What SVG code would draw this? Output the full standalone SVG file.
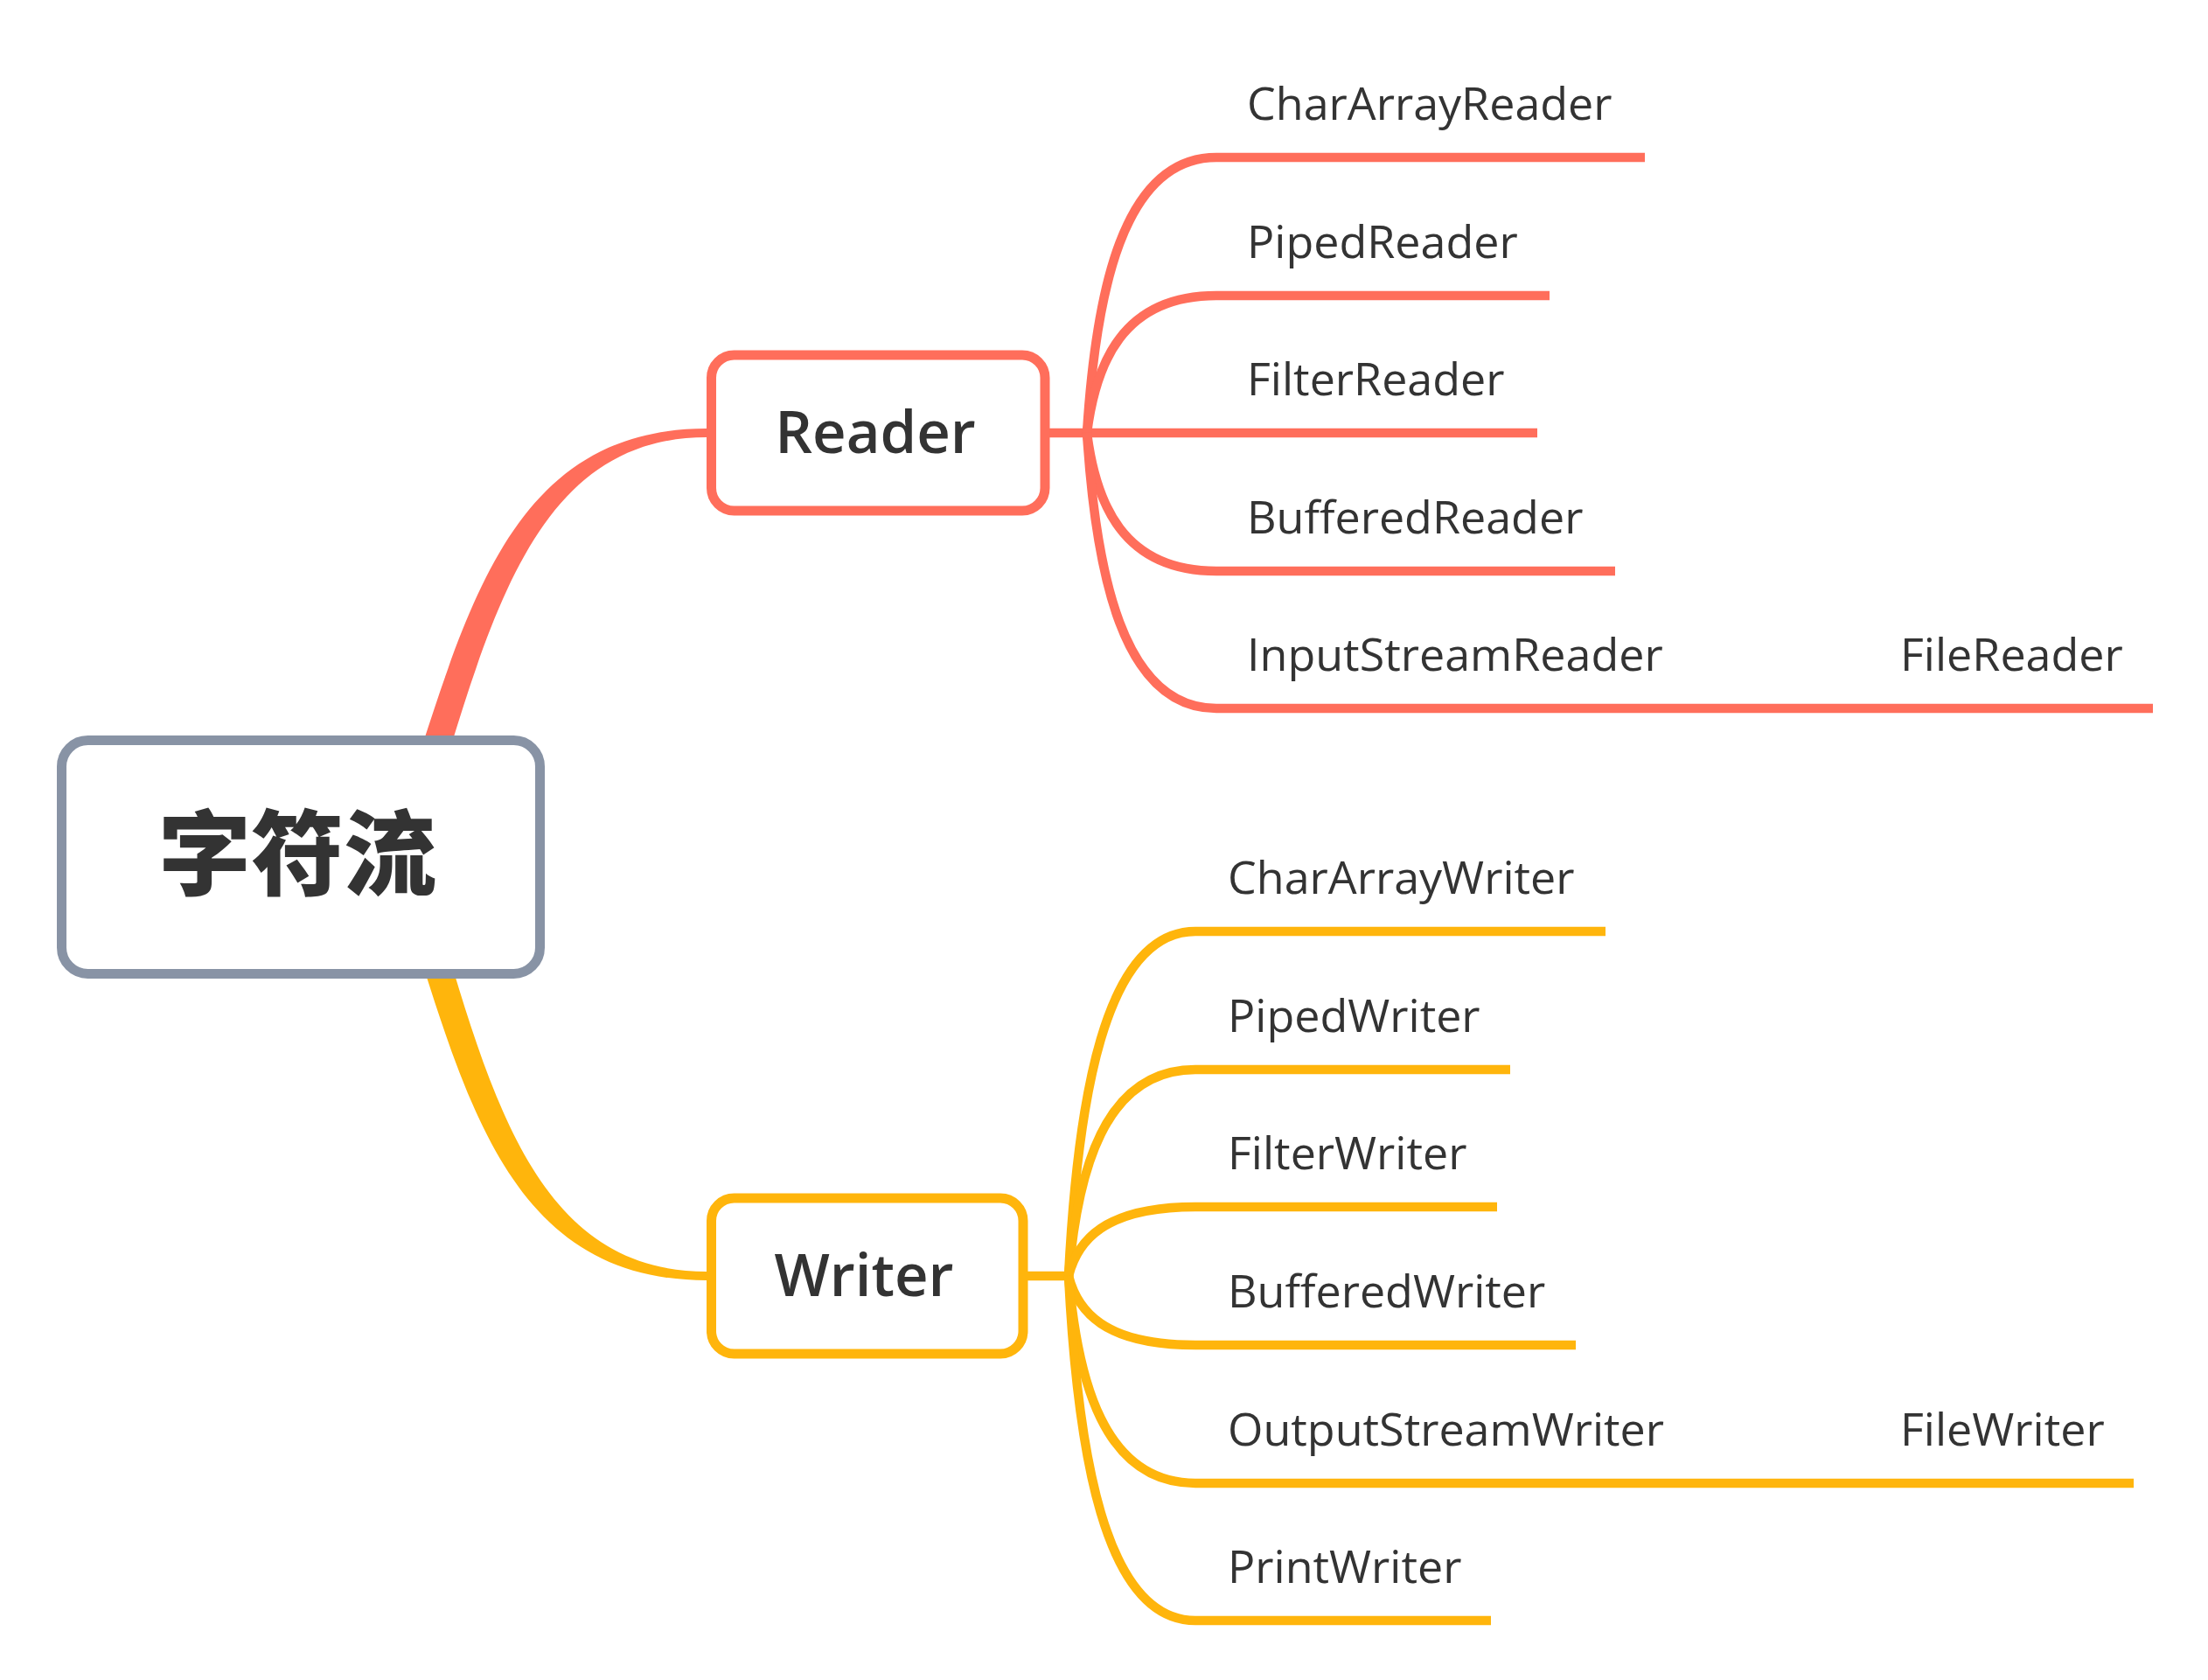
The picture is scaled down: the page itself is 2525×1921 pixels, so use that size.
<svg xmlns="http://www.w3.org/2000/svg" width="2525" height="1921" viewBox="0 0 2525 1921">
<style>
  .bg { fill: #ffffff; }
  .red { stroke: #FF6E5B; fill: none; stroke-width: 10.5; }
  .yel { stroke: #FFB50C; fill: none; stroke-width: 10.5; }
  .redfill { fill: #FF6E5B; }
  .yelfill { fill: #FFB50C; }
  .leaf { font-family: "Open Sans", "Liberation Sans", sans-serif; font-size: 52px; fill: #333333; }
  .mid { font-family: "Open Sans", "Liberation Sans", sans-serif; font-size: 67px; font-weight: 600; fill: #333333; text-anchor: middle; }
  .root { font-family: "Noto Sans CJK SC", "Noto Sans", sans-serif; font-size: 106px; font-weight: 900; fill: #333333; text-anchor: middle; }
</style>
<rect class="bg" x="0" y="0" width="2525" height="1921"/>
<g id="connectors">
  <!-- root to Reader / Writer (tapered) -->
  <path class="redfill" d="M 483 852 C 545 660 605 490 808 490 L 808 500 C 635 500 575 660 516 852 Z"/>
  <path class="yelfill" d="M 485 1108 C 545 1297 605 1464 808 1464 L 808 1454 C 635 1454 575 1297 518 1108 Z"/>
  <!-- Reader branch -->
  <path class="red" d="M 1200 495 L 1758 495"/>
  <path class="red" d="M 1243 495 C 1253 337.5 1283 180 1391 180 L 1881 180"/>
  <path class="red" d="M 1243 495 C 1253 416.5 1283 338 1391 338 L 1772 338"/>
  <path class="red" d="M 1243 495 C 1253 574 1283 653 1391 653 L 1847 653"/>
  <path class="red" d="M 1243 495 C 1253 652.5 1283 810 1391 810 L 2462 810"/>
  <!-- Writer branch -->
  <path class="yel" d="M 1175 1459 L 1222 1459"/>
  <path class="yel" d="M 1222 1459 C 1232 1262 1262 1065 1367 1065 L 1836 1065"/>
  <path class="yel" d="M 1222 1459 C 1232 1341 1262 1223 1367 1223 L 1727 1223"/>
  <path class="yel" d="M 1222 1459 C 1232 1419.5 1262 1380 1367 1380 L 1712 1380"/>
  <path class="yel" d="M 1222 1459 C 1232 1498.5 1262 1538 1367 1538 L 1802 1538"/>
  <path class="yel" d="M 1222 1459 C 1232 1577.5 1262 1696 1367 1696 L 2440 1696"/>
  <path class="yel" d="M 1222 1459 C 1232 1656 1262 1853 1367 1853 L 1705 1853"/>
</g>
<g id="root">
  <rect x="70.5" y="846.5" width="547" height="267" rx="30" fill="#ffffff" stroke="#8893A5" stroke-width="11"/>
  <text class="root" x="340" y="1015">字符流</text>
</g>
<g id="reader">
  <rect x="813.5" y="406" width="381.5" height="178" rx="26" fill="#ffffff" stroke="#FF6E5B" stroke-width="11"/>
  <text class="mid" x="1001" y="518">Reader</text>
</g>
<g id="writer">
  <rect x="813.5" y="1370" width="356.5" height="178" rx="26" fill="#ffffff" stroke="#FFB50C" stroke-width="11"/>
  <text class="mid" x="988" y="1482">Writer</text>
</g>
<g id="CharArrayReader"><text class="leaf" x="1426" y="137">CharArrayReader</text></g>
<g id="PipedReader"><text class="leaf" x="1426" y="295">PipedReader</text></g>
<g id="FilterReader"><text class="leaf" x="1426" y="452">FilterReader</text></g>
<g id="BufferedReader"><text class="leaf" x="1426" y="610">BufferedReader</text></g>
<g id="InputStreamReader"><text class="leaf" x="1426" y="767">InputStreamReader</text></g>
<g id="FileReader"><text class="leaf" x="2173" y="767">FileReader</text></g>
<g id="CharArrayWriter"><text class="leaf" x="1404" y="1022">CharArrayWriter</text></g>
<g id="PipedWriter"><text class="leaf" x="1404" y="1180">PipedWriter</text></g>
<g id="FilterWriter"><text class="leaf" x="1404" y="1337">FilterWriter</text></g>
<g id="BufferedWriter"><text class="leaf" x="1404" y="1495">BufferedWriter</text></g>
<g id="OutputStreamWriter"><text class="leaf" x="1404" y="1653">OutputStreamWriter</text></g>
<g id="FileWriter"><text class="leaf" x="2173" y="1653">FileWriter</text></g>
<g id="PrintWriter"><text class="leaf" x="1404" y="1810">PrintWriter</text></g>
</svg>
